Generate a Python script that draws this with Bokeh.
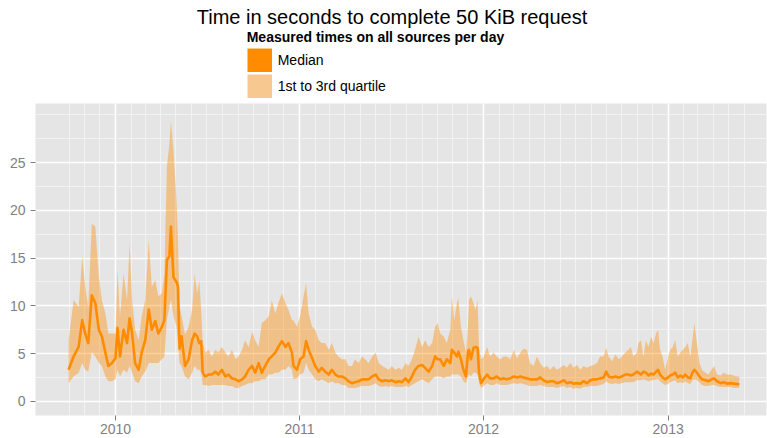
import pandas as pd
from bokeh.plotting import figure
from bokeh.layouts import column
from bokeh.models import (Range1d, FixedTicker, Legend, LegendItem, Label,
                          ColumnDataSource, DatetimeTickFormatter)
from bokeh.embed import file_html
from bokeh.resources import INLINE

# ---------------- data ----------------
dates = [
    "2009-09-30", "2009-10-10", "2009-10-20", "2009-10-27", "2009-11-02", "2009-11-08", "2009-11-15",
    "2009-11-22", "2009-11-29", "2009-12-05", "2009-12-12", "2009-12-18", "2009-12-25",
    "2010-01-01", "2010-01-05", "2010-01-10", "2010-01-17", "2010-01-24", "2010-01-29",
    "2010-02-03", "2010-02-09", "2010-02-16", "2010-02-22",
    "2010-03-01", "2010-03-08", "2010-03-14", "2010-03-21", "2010-03-27",
    "2010-04-03", "2010-04-08", "2010-04-13", "2010-04-18", "2010-04-21", "2010-04-26",
    "2010-05-02", "2010-05-05", "2010-05-08", "2010-05-12", "2010-05-19", "2010-05-26",
    "2010-06-02", "2010-06-07", "2010-06-12", "2010-06-16", "2010-06-20", "2010-06-23", "2010-06-28",
    "2010-07-05", "2010-07-11", "2010-07-18", "2010-07-24", "2010-07-31",
    "2010-08-07", "2010-08-13", "2010-08-20", "2010-08-27",
    "2010-09-02", "2010-09-09", "2010-09-15", "2010-09-22", "2010-09-29",
    "2010-10-05", "2010-10-12", "2010-10-18", "2010-10-25",
    "2010-11-01", "2010-11-07", "2010-11-14", "2010-11-20", "2010-11-27",
    "2010-12-04", "2010-12-10", "2010-12-17", "2010-12-20", "2010-12-27",
    "2011-01-02", "2011-01-09", "2011-01-14", "2011-01-19", "2011-01-26",
    "2011-02-01", "2011-02-08", "2011-02-14", "2011-02-21", "2011-02-28",
    "2011-03-06", "2011-03-13", "2011-03-19", "2011-03-26",
    "2011-04-02", "2011-04-08", "2011-04-15", "2011-04-21", "2011-04-28",
    "2011-05-05", "2011-05-11", "2011-05-18", "2011-05-25",
    "2011-06-01", "2011-06-07", "2011-06-14", "2011-06-20", "2011-06-27",
    "2011-07-03", "2011-07-10", "2011-07-17", "2011-07-23", "2011-07-30",
    "2011-08-05", "2011-08-12", "2011-08-18", "2011-08-25",
    "2011-09-01", "2011-09-07", "2011-09-14", "2011-09-21", "2011-09-27",
    "2011-10-02", "2011-10-07", "2011-10-14", "2011-10-20", "2011-10-27", "2011-10-30",
    "2011-11-04", "2011-11-09", "2011-11-12", "2011-11-17", "2011-11-22", "2011-11-27",
    "2011-12-01", "2011-12-03", "2011-12-07", "2011-12-12", "2011-12-16", "2011-12-20", "2011-12-23", "2011-12-27",
    "2012-01-01", "2012-01-08", "2012-01-14", "2012-01-21", "2012-01-27",
    "2012-02-03", "2012-02-10", "2012-02-16", "2012-02-23",
    "2012-03-01", "2012-03-07", "2012-03-14", "2012-03-20", "2012-03-27",
    "2012-04-02", "2012-04-09", "2012-04-16", "2012-04-22", "2012-04-29",
    "2012-05-06", "2012-05-12", "2012-05-19", "2012-05-25",
    "2012-06-01", "2012-06-08", "2012-06-14", "2012-06-21", "2012-06-27",
    "2012-07-04", "2012-07-11", "2012-07-17", "2012-07-24", "2012-07-31",
    "2012-08-06", "2012-08-13", "2012-08-19", "2012-08-26", "2012-08-31",
    "2012-09-05", "2012-09-12", "2012-09-18", "2012-09-25",
    "2012-10-01", "2012-10-08", "2012-10-14", "2012-10-19", "2012-10-24", "2012-10-31",
    "2012-11-03", "2012-11-08", "2012-11-13", "2012-11-18", "2012-11-23", "2012-11-28",
    "2012-12-03", "2012-12-08", "2012-12-12", "2012-12-16", "2012-12-21", "2012-12-26",
    "2013-01-01", "2013-01-05", "2013-01-10", "2013-01-15", "2013-01-20", "2013-01-25", "2013-01-30",
    "2013-02-04", "2013-02-09", "2013-02-14", "2013-02-18", "2013-02-22", "2013-02-27",
    "2013-03-04", "2013-03-09", "2013-03-16", "2013-03-22", "2013-03-28",
    "2013-04-02", "2013-04-08", "2013-04-15", "2013-04-21", "2013-04-28",
    "2013-05-05", "2013-05-11", "2013-05-18", "2013-05-22",
]

median = [
    3.3, 4.7, 5.7, 8.5, 7.1, 6.1, 11.1, 10.3, 7.5, 6.8, 5.1, 3.7, 4.0,
    4.5, 7.7, 4.7, 7.5, 6.1, 8.7,
    7.1, 4.0, 3.3, 5.1,
    6.4, 9.6, 7.5, 8.4, 7.1,
    7.8, 8.5, 14.8, 15.2, 18.3, 13.0,
    12.5, 12.0, 5.5, 6.8, 3.7, 4.4,
    6.4, 7.1, 6.8, 6.1, 6.3, 3.0, 2.6,
    2.8, 2.8, 3.1, 2.8, 3.3,
    2.6, 2.8, 2.4, 2.3,
    2.1, 2.3, 2.6, 3.3, 3.7,
    3.0, 4.0, 3.0, 3.7,
    4.4, 4.7, 5.1, 5.7, 6.3,
    5.7, 6.1, 5.1, 3.7, 3.3,
    4.4, 4.7, 6.3, 5.4, 4.5,
    3.7, 3.1, 3.5, 3.1, 2.8,
    3.3, 2.8, 2.6, 2.6,
    2.4, 2.1, 1.9, 2.0, 2.1,
    2.3, 2.3, 2.3, 2.6,
    2.8, 2.3, 2.1, 2.2, 2.1,
    2.2, 2.0, 2.1, 2.0, 2.4,
    2.0, 2.6, 3.3, 3.7,
    3.8, 3.5, 3.1, 3.7, 4.7,
    4.4, 4.4, 3.7, 4.4, 4.0, 5.4,
    5.1, 4.7, 5.2, 4.4, 3.3, 2.6,
    5.1, 5.4, 4.4, 5.6, 5.7, 5.6, 3.0, 1.9,
    2.3, 2.8, 2.4, 2.4, 2.6,
    2.3, 2.4, 2.3, 2.4,
    2.6, 2.5, 2.6, 2.5, 2.4,
    2.3, 2.3, 2.3, 2.5, 2.2,
    2.0, 2.1, 2.1, 1.9,
    2.0, 2.2, 1.9, 2.0, 1.85,
    1.9, 1.85, 2.1, 1.9, 2.2,
    2.3, 2.3, 2.4, 2.5, 3.1,
    2.6, 2.5, 2.6, 2.5,
    2.6, 2.8, 2.8, 2.7, 2.8, 3.1,
    3.0, 2.8, 3.1, 3.0, 2.7, 2.9,
    2.8, 3.1, 3.3, 2.8, 2.5, 2.3,
    2.5, 2.7, 2.8, 3.0, 2.5, 2.7, 2.5,
    2.8, 2.5, 2.4, 3.0, 3.3, 3.0,
    2.6, 2.3, 2.2, 2.1, 2.3,
    2.4, 2.1, 1.9, 2.0, 1.85,
    1.9, 1.85, 1.8, 1.75,
]

quartile_1 = [
    1.9, 2.6, 3.0, 4.0, 3.3, 3.1, 5.1, 4.7, 4.0, 3.7, 2.6, 2.1, 2.1,
    2.3, 3.3, 2.6, 3.3, 3.0, 3.7,
    3.0, 2.1, 1.9, 2.6,
    3.1, 4.0, 4.0, 4.0, 4.0,
    4.4, 4.7, 8.5, 9.9, 10.6, 9.0,
    7.8, 6.0, 4.0, 3.7, 2.6, 2.3,
    3.0, 3.7, 3.3, 3.3, 3.0, 1.7, 1.7,
    1.6, 1.7, 1.7, 1.7, 1.7,
    1.7, 1.6, 1.6, 1.4,
    1.4, 1.6, 1.7, 1.9, 1.9,
    2.1, 2.1, 2.3, 2.3,
    2.8, 2.8, 3.0, 3.0, 3.3,
    3.3, 3.7, 3.3, 2.3, 2.4,
    2.8, 3.0, 4.0, 3.3, 2.8,
    2.3, 2.1, 2.3, 2.1, 1.9,
    2.1, 1.9, 1.9, 1.7,
    1.7, 1.4, 1.4, 1.4, 1.5,
    1.6, 1.6, 1.6, 1.7,
    1.9, 1.6, 1.5, 1.6, 1.5,
    1.6, 1.5, 1.5, 1.5, 1.6,
    1.5, 1.7, 1.9, 2.1,
    2.3, 2.1, 1.9, 2.3, 2.6,
    2.6, 2.6, 2.4, 2.6, 2.6, 2.8,
    2.8, 2.8, 2.8, 2.6, 2.1, 1.9,
    2.6, 2.8, 2.6, 3.0, 3.0, 2.8, 1.9, 1.4,
    1.6, 1.9, 1.7, 1.7, 1.9,
    1.7, 1.7, 1.7, 1.8,
    1.9, 1.8, 1.9, 1.8, 1.7,
    1.6, 1.6, 1.6, 1.7, 1.6,
    1.5, 1.5, 1.5, 1.4,
    1.5, 1.6, 1.4, 1.5, 1.3,
    1.4, 1.3, 1.5, 1.5, 1.6,
    1.6, 1.6, 1.7, 1.8, 2.1,
    1.9, 1.8, 1.9, 1.8,
    1.9, 2.0, 2.0, 2.0, 2.0, 2.2,
    2.2, 2.2, 2.3, 2.2, 2.1, 2.2,
    2.2, 2.3, 2.3, 2.1, 1.9, 1.7,
    1.8, 2.0, 2.1, 2.2, 1.9, 2.0, 1.9,
    2.1, 1.9, 1.8, 2.2, 2.3, 2.2,
    2.0, 1.7, 1.6, 1.6, 1.7,
    1.7, 1.6, 1.5, 1.5, 1.5,
    1.5, 1.4, 1.4, 1.4,
]

quartile_3 = [
    6.4, 10.6, 9.9, 15.2, 12.0, 9.9, 18.6, 18.3, 13.1, 10.6, 9.2, 7.1, 7.1,
    7.1, 13.8, 8.9, 13.4, 10.6, 16.6,
    10.6, 7.5, 6.4, 8.9,
    10.6, 16.9, 12.0, 12.7, 11.0,
    11.3, 13.4, 24.6, 27.0, 29.4, 26.3,
    21.1, 17.0, 10.0, 9.0, 7.0, 7.8,
    9.6, 13.4, 11.3, 12.7, 9.6, 6.1, 5.1,
    5.4, 4.7, 5.4, 5.1, 5.7,
    5.1, 4.7, 5.4, 4.4,
    4.7, 5.4, 6.4, 5.7, 7.3,
    6.4, 5.7, 8.2, 8.5,
    8.9, 10.6, 9.2, 10.3, 11.3,
    10.3, 9.6, 8.5, 8.5, 7.8,
    8.9, 11.0, 12.4, 9.2, 7.8,
    7.5, 6.4, 6.1, 6.1, 5.4,
    6.1, 5.1, 4.7, 4.4,
    4.4, 3.7, 3.7, 4.4, 4.0,
    4.7, 4.4, 4.0, 4.7,
    5.1, 4.0, 3.7, 3.5, 3.3,
    3.7, 3.3, 3.5, 3.3, 4.0,
    3.7, 4.4, 5.4, 6.8,
    5.7, 6.4, 5.7, 6.1, 7.8,
    8.2, 7.1, 6.8, 6.1, 7.5, 11.0,
    8.5, 10.3, 10.8, 7.8, 6.4, 5.1,
    7.8, 10.6, 11.0, 10.3, 9.6, 10.6, 5.7, 4.4,
    4.7, 5.7, 4.7, 5.1, 4.7,
    4.4, 4.7, 4.7, 4.4,
    5.4, 4.5, 5.1, 5.5, 5.4,
    4.0, 3.7, 4.7, 4.0, 3.5,
    3.7, 3.3, 3.7, 3.3,
    3.5, 3.8, 3.5, 4.0, 3.5,
    3.8, 3.3, 3.7, 3.5, 3.7,
    3.8, 4.0, 4.7, 4.7, 5.6,
    4.7, 4.2, 4.9, 4.4,
    4.7, 5.1, 5.4, 5.7, 4.7, 5.1,
    6.1, 6.4, 4.7, 6.4, 5.7, 6.8,
    6.1, 7.1, 7.5, 5.4, 4.7, 3.3,
    4.7, 5.4, 5.7, 6.4, 4.7, 5.1, 5.4,
    5.7, 6.1, 4.7, 6.4, 8.2, 6.1,
    4.0, 3.3, 3.0, 2.8, 3.3,
    3.7, 2.8, 2.7, 3.0, 2.8,
    2.8, 2.7, 2.6, 2.6,
]

year_ticks = [2010, 2011, 2012, 2013]
y_ticks = [0, 5, 10, 15, 20, 25]
y_minor = [2.5, 7.5, 12.5, 17.5, 22.5, 27.5, 30]

title_text = "Time in seconds to complete 50 KiB request"
legend_title = "Measured times on all sources per day"
label_median = "Median"
label_quartiles = "1st to 3rd quartile"

assert len(dates) == len(median) == len(quartile_1) == len(quartile_3)

# ---------------- styles ----------------
FONT = "Liberation Sans"
ORANGE = "#FF8C00"
PANEL = "#E5E5E5"
GREY_TXT = "#7F7F7F"
W = 767
TOP_H = 103
H = 438


def ms(s):
    return pd.Timestamp(s).value / 1e6


# ---------------- header: title + legend ----------------
head = figure(width=W, height=TOP_H, output_backend="svg", toolbar_location=None,
              x_range=Range1d(0, W), y_range=Range1d(0, TOP_H),
              x_axis_location=None, y_axis_location=None,
              min_border=0, min_border_left=0, min_border_right=0,
              min_border_top=0, min_border_bottom=0)
head.grid.visible = False
head.outline_line_color = None
head.background_fill_color = "white"
head.border_fill_color = "white"

# key renderers: their data lie outside the header's ranges, only the legend shows them
k_med = head.line(x=[-50, -40], y=[-50, -50], line_color=ORANGE, line_width=24)
k_q = head.line(x=[-50, -40], y=[-50, -50], line_color="#F7C991", line_width=24)

legend = Legend(items=[LegendItem(label=label_median, renderers=[k_med]),
                       LegendItem(label=label_quartiles, renderers=[k_q])],
                location=(211.7, 5), title=legend_title,
                title_text_font=FONT, title_text_font_size="14px",
                title_text_font_style="bold", title_text_color="black",
                title_standoff=3,
                label_text_font=FONT, label_text_font_size="14px",
                label_text_color="black", label_standoff=6,
                glyph_width=25, glyph_height=24, spacing=2,
                padding=5, margin=0, border_line_color=None,
                background_fill_color="white", background_fill_alpha=1.0)
head.add_layout(legend)

head.add_layout(Label(x=356.5, y=TOP_H - 16, x_units="screen", y_units="screen",
                      text=title_text, text_align="center",
                      text_baseline="alphabetic", text_font=FONT,
                      text_font_size="20px", text_color="black"))

# ---------------- main panel ----------------
src = ColumnDataSource(dict(x=pd.to_datetime(dates), med=median,
                            q1=quartile_1, q3=quartile_3))

p = figure(width=W, height=H - TOP_H, x_axis_type="datetime",
           output_backend="svg", toolbar_location=None,
           x_range=Range1d(ms("2009-07-26 10:00"), ms("2013-07-15")),
           y_range=Range1d(-1.49, 31.2),
           min_border_left=35, min_border_right=1,
           min_border_top=0, min_border_bottom=23)
p.background_fill_color = PANEL
p.border_fill_color = "white"
p.outline_line_color = None

p.varea(x="x", y1="q1", y2="q3", source=src, fill_color=ORANGE, fill_alpha=0.4)
p.line(x="x", y="med", source=src, line_color=ORANGE, line_width=2.6,
       line_join="round")

year_ms = [ms(f"{y}-01-01") for y in year_ticks]
month_ms = [t.value / 1e6 for t in pd.date_range("2009-10-01", "2013-06-01", freq="MS")]

p.xaxis.ticker = FixedTicker(ticks=year_ms)
p.xaxis.formatter = DatetimeTickFormatter(years="%Y", months="%Y", days="%Y",
                                          hours="%Y", minutes="%Y")
p.yaxis.ticker = FixedTicker(ticks=y_ticks)
p.xgrid.ticker = FixedTicker(ticks=year_ms, minor_ticks=month_ms)
p.ygrid.ticker = FixedTicker(ticks=y_ticks, minor_ticks=y_minor)

for g in (p.xgrid[0], p.ygrid[0]):
    g.grid_line_color = "white"
    g.grid_line_width = 1.6
    g.minor_grid_line_color = "#F2F2F2"
    g.minor_grid_line_width = 1

for ax in (p.xaxis[0], p.yaxis[0]):
    ax.axis_line_color = None
    ax.major_tick_line_color = GREY_TXT
    ax.major_tick_out = 5
    ax.major_tick_in = 0
    ax.minor_tick_line_color = None
    ax.major_label_text_color = GREY_TXT
    ax.major_label_text_font = FONT
    ax.major_label_text_font_size = "14px"
p.xaxis.major_label_standoff = 3
p.yaxis.major_label_standoff = 5

layout = column(head, p, spacing=0)
open("out.html", "w").write(file_html(layout, INLINE))
